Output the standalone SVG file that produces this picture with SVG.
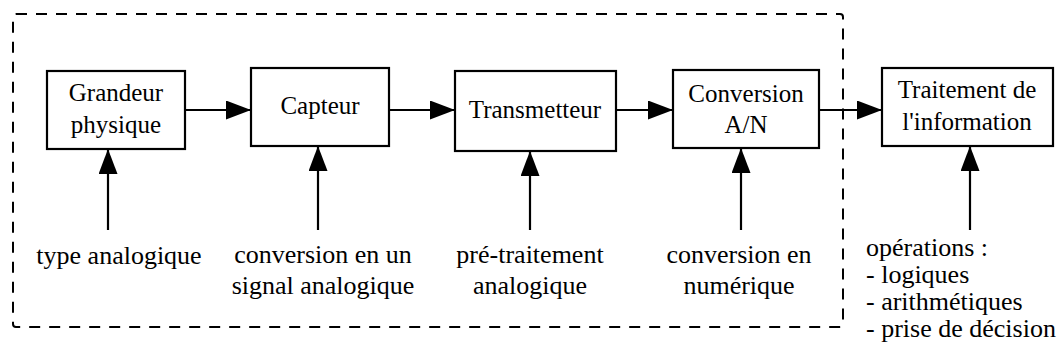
<svg xmlns="http://www.w3.org/2000/svg" width="1060" height="354" viewBox="0 0 1060 354">
<defs>
<style>
.box{fill:#fff;stroke:#000;stroke-width:2.2}
text{font-family:'Liberation Serif','Times New Roman','DejaVu Serif',serif;fill:#000}
.t{font-size:25px;text-anchor:middle}
.b{font-size:26px;text-anchor:middle}
.l{font-size:26px}
.c{stroke:#000;stroke-width:2.2;fill:none;marker-end:url(#ah)}
.frame{fill:none;stroke:#000;stroke-width:2;stroke-dasharray:11 9}
</style>
<marker id="ah" markerUnits="userSpaceOnUse" markerWidth="25" markerHeight="19" refX="25" refY="9.5" orient="auto">
<path d="M0,0 L25,9.5 L0,19 z" fill="#000"/>
</marker>
</defs>
<rect fill="#fff" width="1060" height="354"/>
<rect id="frame" class="frame" x="13" y="14" width="830" height="313" rx="3"/>
<g id="connectors">
<line class="c" x1="185" y1="110" x2="251" y2="110"/>
<line class="c" x1="389" y1="110" x2="455" y2="110"/>
<line class="c" x1="616" y1="110" x2="673" y2="110"/>
<line class="c" x1="819" y1="110" x2="882" y2="110"/>
<line class="c" x1="108" y1="230" x2="108" y2="149"/>
<line class="c" x1="318" y1="230" x2="318" y2="146"/>
<line class="c" x1="530" y1="230" x2="530" y2="151"/>
<line class="c" x1="741" y1="230" x2="741" y2="148"/>
<line class="c" x1="970" y1="230" x2="970" y2="146"/>
</g>
<g id="grandeur">
<rect class="box" x="47" y="71" width="138" height="78"/>
<text class="t" x="116" y="101" font-family="Liberation Serif, serif">Grandeur</text>
<text class="t" x="116" y="133" font-family="Liberation Serif, serif">physique</text>
</g>
<g id="capteur">
<rect class="box" x="251" y="68" width="138" height="78"/>
<text class="t" x="320" y="114">Capteur</text>
</g>
<g id="transmetteur">
<rect class="box" x="455" y="71" width="161" height="80"/>
<text class="t" x="535" y="118">Transmetteur</text>
</g>
<g id="conversion">
<rect class="box" x="673" y="70" width="146" height="78"/>
<text class="t" x="746" y="102">Conversion</text>
<text class="t" x="746" y="133">A/N</text>
</g>
<g id="traitement">
<rect class="box" x="882" y="68" width="171" height="78"/>
<text class="t" x="967" y="98">Traitement de</text>
<text class="t" x="967" y="130">l'information</text>
</g>
<g id="labels">
<text class="b" x="119" y="264">type analogique</text>
<text class="b" x="323" y="263">conversion en un</text>
<text class="b" x="323" y="294">signal analogique</text>
<text class="b" x="530" y="263">pré-traitement</text>
<text class="b" x="530" y="294">analogique</text>
<text class="b" x="739" y="263">conversion en</text>
<text class="b" x="739" y="294">numérique</text>
<text class="l" x="866" y="256">opérations :</text>
<text class="l" x="866" y="283">- logiques</text>
<text class="l" x="866" y="310">- arithmétiques</text>
<text class="l" x="866" y="337">- prise de décision</text>
</g>
</svg>
